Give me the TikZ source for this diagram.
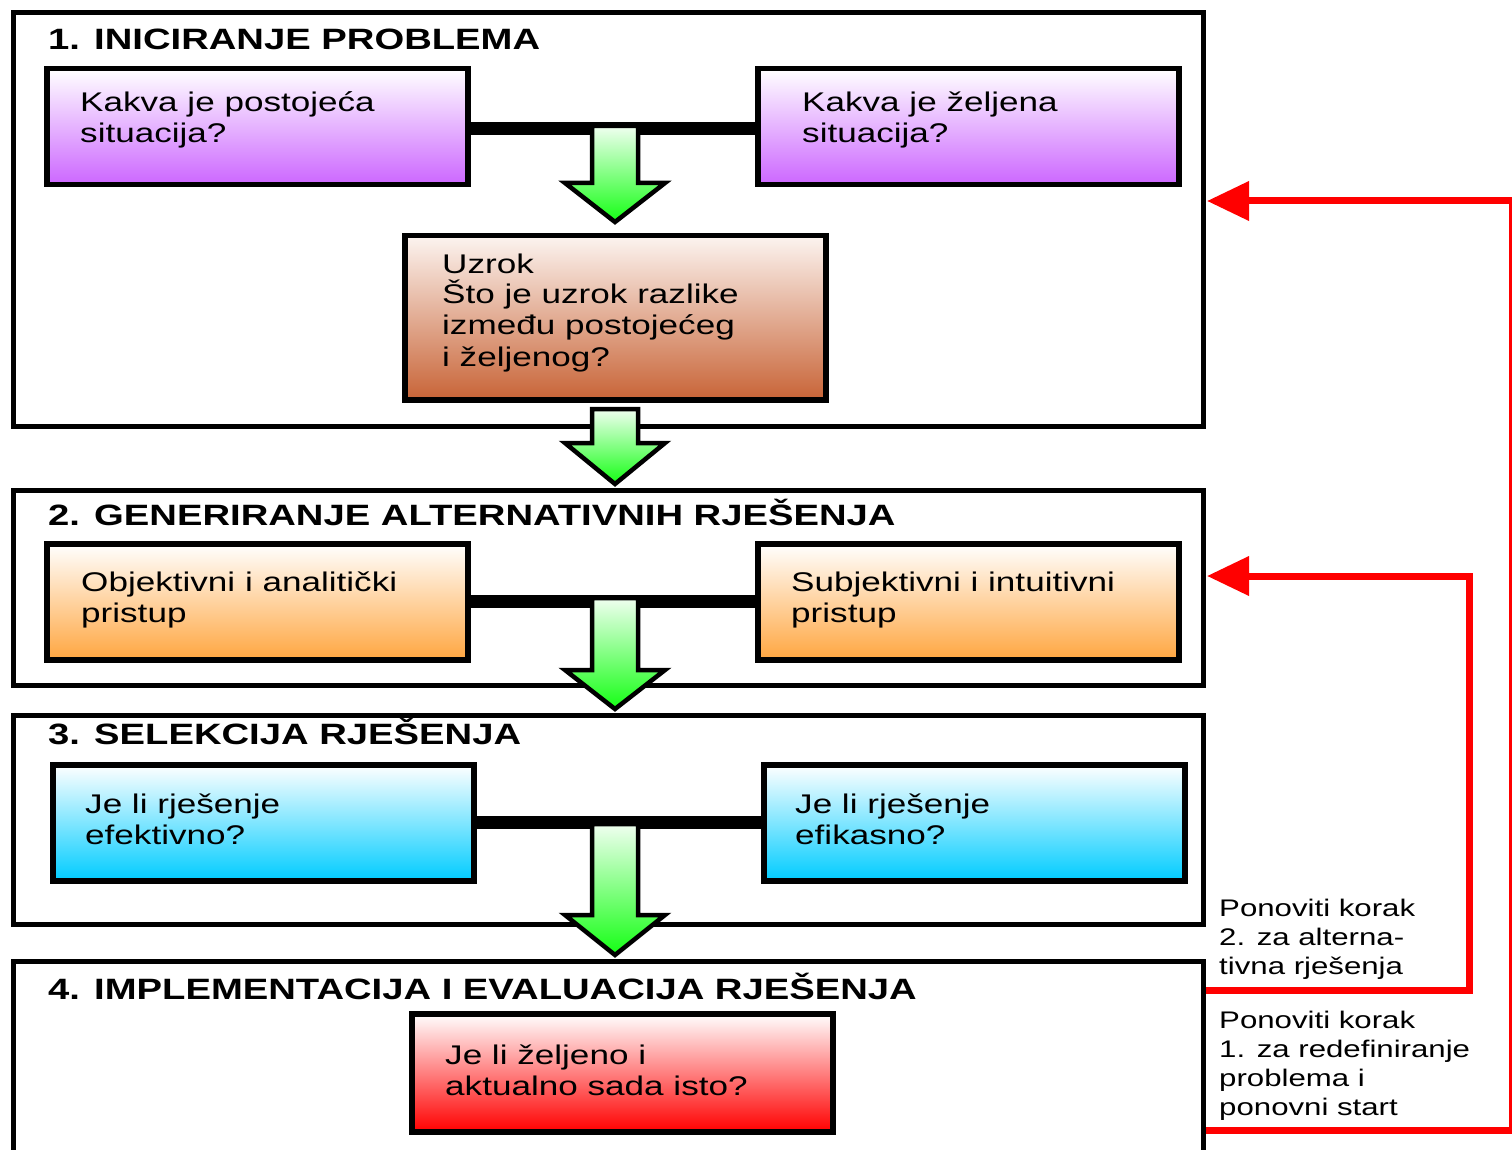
\documentclass[tikz,border=0pt]{standalone}
\usepackage{fontspec}
\setmainfont{Liberation Sans}[FakeStretch=1.3]
\usetikzlibrary{arrows.meta,calc}

\definecolor{lilac}{RGB}{204,102,255}
\definecolor{amber}{RGB}{255,166,64}
\definecolor{sky}{RGB}{0,204,255}
\definecolor{rust}{RGB}{200,100,55}
\definecolor{rusttop}{RGB}{252,244,240}
\definecolor{signal}{RGB}{255,0,0}
\definecolor{lime}{RGB}{20,255,20}
\definecolor{limetop}{RGB}{240,255,240}

\tikzset{
  stage/.style={draw=black, line width=5pt, fill=white, inner sep=0pt, anchor=north west},
  qbox/.style={draw=black, line width=5.5pt, minimum width=421pt, minimum height=116pt,
    inner sep=0pt, anchor=north west, top color=white, bottom color=#1},
  qtext/.style={anchor=base west, inner sep=0pt, align=left, font=\fontsize{27}{31}\selectfont},
  ttl/.style={anchor=base west, inner sep=0pt, font=\fontsize{29.4}{34}\selectfont\bfseries},
  note/.style={anchor=base west, inner sep=0pt, align=left, font=\fontsize{24}{29}\selectfont},
  bar/.style={line width=13pt},
  loopback/.style={draw=signal, line width=7pt, line join=miter,
    -{Triangle[length=42pt,width=38pt]}},
  pics/dropper/.style n args={2}{code={
    \draw[line width=4.5pt, line join=miter, top color=limetop, bottom color=lime]
      (-23,0) -- (23,0) -- (23,#1) -- (50,#1) -- (0,#2) -- (-50,#1) -- (-23,#1) -- cycle;
  }},
}

\begin{document}
\begin{tikzpicture}[x=1pt,y=-1pt]
  \useasboundingbox (0,0) rectangle (1512,1150);
  \clip (0,0) rectangle (1512,1150);

  % four stages
  \node[stage, minimum width=1190pt, minimum height=414pt] (s1) at (11,10) {};
  \node[stage, minimum width=1190pt, minimum height=195pt] (s2) at (11,488) {};
  \node[stage, minimum width=1190pt, minimum height=209pt] (s3) at (11,713) {};
  \node[stage, minimum width=1190pt, minimum height=240pt] (s4) at (11,959) {};

  \node[ttl] (t1) at (48,50) {1. INICIRANJE PROBLEMA};
  \node[ttl] (t2) at (48,525) {2. GENERIRANJE ALTERNATIVNIH RJEŠENJA};
  \node[ttl] (t3) at (48,744) {3. SELEKCIJA RJEŠENJA};
  \node[ttl] (t4) at (48,999) {4. IMPLEMENTACIJA I EVALUACIJA RJEŠENJA};

  % stage 1 (text nodes sit on the baseline of their last line)
  \node[qbox=lilac] (now) at (44,66) {};
  \node[qbox=lilac] (want) at (755,66) {};
  \node[qbox=rust, top color=rusttop, minimum height=164pt] (cause) at (402,233) {};
  \node[qtext] (nowt) at (80,143) {Kakva je postojeća\\situacija?};
  \node[qtext] (wantt) at (802,143) {Kakva je željena\\situacija?};
  \node[qtext] (causet) at (442,366) {Uzrok\\Što je uzrok razlike\\između postojećeg\\i željenog?};

  % stage 2
  \node[qbox=amber] (obj) at (44,541) {};
  \node[qbox=amber] (subj) at (755,541) {};
  \node[qtext] (objt) at (81,622) {Objektivni i analitički\\pristup};
  \node[qtext] (subjt) at (791,622) {Subjektivni i intuitivni\\pristup};

  % stage 3
  \node[qbox=sky] (eff) at (50,762) {};
  \node[qbox=sky] (effi) at (761,762) {};
  \node[qtext] (efft) at (85,844) {Je li rješenje\\efektivno?};
  \node[qtext] (effit) at (795,844) {Je li rješenje\\efikasno?};

  % stage 4
  \node[qbox=signal, minimum height=118pt] (same) at (409,1011) {};
  \node[qtext] (samet) at (445,1095) {Je li željeno i\\aktualno sada isto?};

  % joining bars
  \draw[bar] ($(now.east)+(0,2)$) -- ($(want.west)+(0,2)$);
  \draw[bar] (obj.east) -- (subj.west);
  \draw[bar] (eff.east) -- (effi.west);

  % downward flow arrows
  \pic at (615,126) {dropper={57}{96}};
  \pic at (615,409) {dropper={34}{75}};
  \pic at (615,598) {dropper={72}{111}};
  \pic at (615,824) {dropper={91}{131}};

  % feedback loops
  \coordinate (r2a) at (s3.south east |- 0,990);
  \coordinate (r2b) at (1469,990);
  \coordinate (r2c) at (1469,576);
  \coordinate (r2d) at ($(s2.east |- 0,576)+(1,0)$);
  \draw[loopback] (r2a) -- (r2b) -- (r2c) -- (r2d);

  \coordinate (r1a) at (s4.east |- 0,1130);
  \coordinate (r1b) at (1512,1130);
  \coordinate (r1c) at (1512,201);
  \coordinate (r1d) at ($(s1.east |- 0,201)+(1,0)$);
  \draw[loopback] (r1a) -- (r1b) -- (r1c) -- (r1d);

  \node[note] (n2) at (1219,974) {Ponoviti korak\\2. za alterna-\\tivna rješenja};
  \node[note] (n1) at (1219,1115) {Ponoviti korak\\1. za redefiniranje\\problema i\\ponovni start};
\end{tikzpicture}
\end{document}
